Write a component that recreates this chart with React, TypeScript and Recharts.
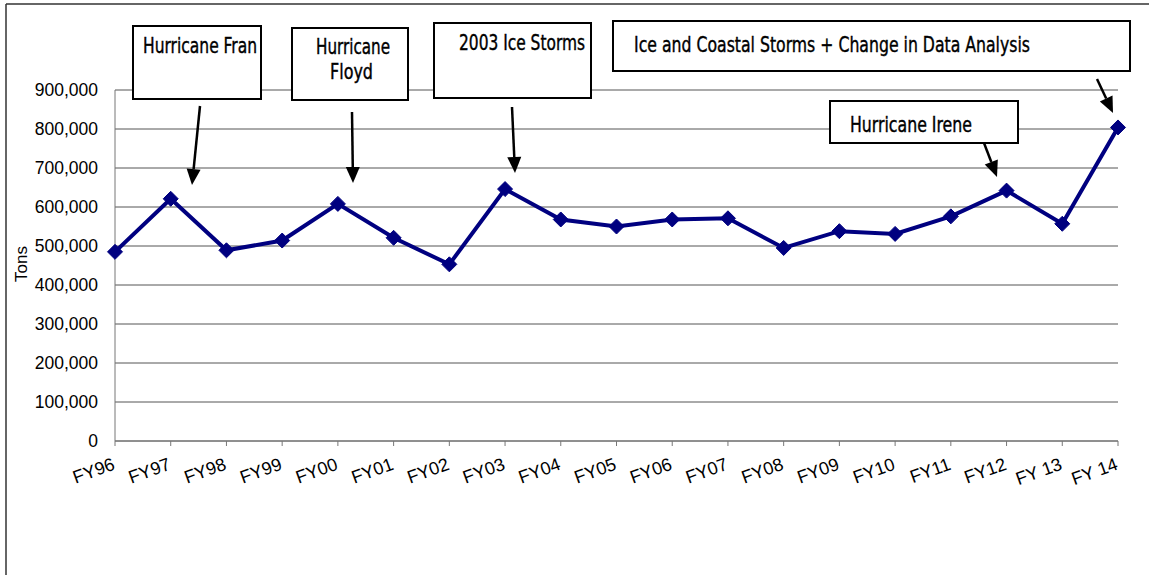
import React from 'react';
import { LineChart, Line, XAxis, YAxis, CartesianGrid } from 'recharts';

const years = [
  'FY96', 'FY97', 'FY98', 'FY99', 'FY00', 'FY01', 'FY02', 'FY03', 'FY04', 'FY05',
  'FY06', 'FY07', 'FY08', 'FY09', 'FY10', 'FY11', 'FY12', 'FY 13', 'FY 14',
];
const tons = [
  485000, 621000, 489000, 514000, 608000, 521000, 453000, 646000, 568000, 550000,
  568000, 571000, 495000, 538000, 531000, 576000, 642000, 557000, 804000,
];
const yTicks = [0, 100000, 200000, 300000, 400000, 500000, 600000, 700000, 800000, 900000];

const noteLabels = [
  ['Hurricane Fran'],
  ['Hurricane', 'Floyd'],
  ['2003 Ice Storms'],
  ['Ice and Coastal Storms + Change in Data Analysis'],
  ['Hurricane Irene'],
];

const data = years.map((year, i) => ({ year, tons: tons[i] }));

const W = 1149;
const H = 575;
const noteFont = '"Liberation Sans Narrow", "DejaVu Sans Condensed", "Arial Narrow", sans-serif';
const axisFont = '"Liberation Sans", Arial, sans-serif';

// callout boxes: box rect, text lines (x, baseline, width), arrow from -> to
const noteLayout = [
  { box: [133, 26, 128, 73], text: [[143, 53, 114]], arrow: [200, 106, 192, 185] },
  { box: [292, 28, 116, 72], text: [[316, 54, 74], [330, 79, 43]], arrow: [352, 112, 353, 183] },
  { box: [434, 23, 157, 75], text: [[459, 50, 126]], arrow: [512, 107, 515, 173] },
  { box: [613, 21, 517, 50], text: [[634, 52, 396]], arrow: [1097, 79, 1113, 113] },
  { box: [830, 101, 188, 42], text: [[850, 132, 122]], arrow: [984, 143, 997, 177] },
];

const Diamond = (props: any) => {
  const { cx, cy } = props;
  if (cx == null || cy == null) return null;
  const r = 7.5;
  return (
    <polygon
      points={`${cx},${cy - r} ${cx + r},${cy} ${cx},${cy + r} ${cx - r},${cy}`}
      fill="#000080"
      stroke="#000080"
    />
  );
};

const XTick = (props: any) => {
  const { x, y, payload } = props;
  const tx = x + 1;
  const ty = y + 21;
  return (
    <text
      x={tx}
      y={ty}
      transform={`rotate(-20, ${tx}, ${ty})`}
      textAnchor="end"
      style={{ fontSize: 18, fontFamily: axisFont }}
      fill="#000"
    >
      {payload.value}
    </text>
  );
};

const YTick = (props: any) => {
  const { x, y, payload } = props;
  return (
    <text
      x={x}
      y={y + 6}
      textAnchor="end"
      style={{ fontSize: 17.5, fontFamily: axisFont }}
      fill="#000"
    >
      {payload.value.toLocaleString('en-US')}
    </text>
  );
};

function Arrow({ x1, y1, x2, y2 }: { x1: number; y1: number; x2: number; y2: number }) {
  const dx = x2 - x1;
  const dy = y2 - y1;
  const len = Math.hypot(dx, dy);
  const ux = dx / len;
  const uy = dy / len;
  const headLen = 16;
  const headHalf = 7;
  const bx = x2 - ux * headLen;
  const by = y2 - uy * headLen;
  return (
    <g>
      <line x1={x1} y1={y1} x2={bx} y2={by} stroke="#000" strokeWidth={2.5} />
      <polygon
        points={`${x2},${y2} ${bx - uy * headHalf},${by + ux * headHalf} ${bx + uy * headHalf},${by - ux * headHalf}`}
        fill="#000"
      />
    </g>
  );
}

function Notes() {
  return (
    <svg
      width={W}
      height={H}
      style={{ position: 'absolute', left: 0, top: 0, pointerEvents: 'none' }}
    >
      <line x1={6} y1={4} x2={W} y2={4} stroke="#333" strokeWidth={1.5} />
      <line x1={6} y1={4} x2={6} y2={H} stroke="#333" strokeWidth={1.5} />
      <text
        x={27}
        y={264}
        transform="rotate(-90, 27, 264)"
        textAnchor="middle"
        style={{ fontSize: 17, fontFamily: axisFont }}
        fill="#000"
      >
        Tons
      </text>
      {noteLayout.map((n, i) => {
        const [bx, by, bw, bh] = n.box;
        const [x1, y1, x2, y2] = n.arrow;
        return (
          <g key={i}>
            <rect x={bx} y={by} width={bw} height={bh} fill="#fff" stroke="#000" strokeWidth={2} />
            {noteLabels[i].map((line, j) => {
              const [tx, ty, tw] = n.text[j];
              return (
                <text
                  key={j}
                  x={tx}
                  y={ty}
                  textLength={tw}
                  lengthAdjust="spacingAndGlyphs"
                  style={{ fontSize: 22, fontFamily: noteFont }}
                  fill="#000"
                  stroke="#000"
                  strokeWidth={0.4}
                >
                  {line}
                </text>
              );
            })}
            <Arrow x1={x1} y1={y1} x2={x2} y2={y2} />
          </g>
        );
      })}
    </svg>
  );
}

export default function App() {
  return (
    <div style={{ position: 'absolute', left: 0, top: 0, width: W, height: H, background: '#fff' }}>
      <LineChart
        width={W}
        height={H}
        data={data}
        margin={{ top: 90, right: 31, bottom: 0, left: 0 }}
      >
        <CartesianGrid vertical={false} stroke="#555" strokeWidth={1} />
        <XAxis
          dataKey="year"
          interval={0}
          height={134}
          stroke="#777"
          tickSize={5}
          tick={<XTick />}
        />
        <YAxis
          width={115}
          domain={[0, 900000]}
          ticks={yTicks}
          interval={0}
          stroke="#777"
          tickLine={false}
          tickSize={6}
          tickMargin={11}
          tick={<YTick />}
        />
        <Line
          type="linear"
          dataKey="tons"
          stroke="#000080"
          strokeWidth={4}
          dot={<Diamond />}
          activeDot={false}
          isAnimationActive={false}
        />
      </LineChart>
      <Notes />
    </div>
  );
}
